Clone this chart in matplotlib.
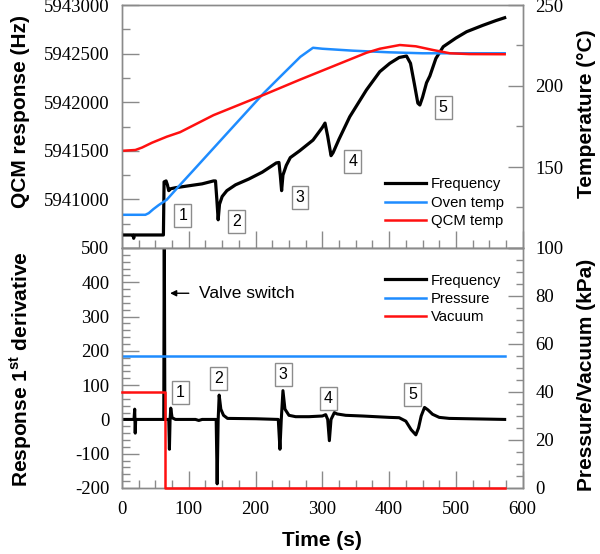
import matplotlib
matplotlib.use("Agg")
import matplotlib.pyplot as plt
from matplotlib.ticker import MultipleLocator, FixedLocator, FixedFormatter
from matplotlib.lines import Line2D

plt.rcParams['font.family'] = ['Liberation Serif', 'DejaVu Serif']
plt.rcParams['mathtext.fontset'] = 'custom'
plt.rcParams['mathtext.rm'] = 'Liberation Sans'
plt.rcParams['mathtext.bf'] = 'Liberation Sans:bold'
plt.rcParams['xtick.labelsize'] = 13.5
plt.rcParams['ytick.labelsize'] = 13.5

# ---------------- data ----------------
freq_t = [0, 15, 16.5, 17.5, 18.5, 62, 63, 66, 68, 70, 73, 80, 100, 120, 137, 140,
          142, 144, 146, 150, 157, 170, 190, 210, 231, 235, 237, 239, 241, 246, 252,
          266, 286, 300, 304, 308, 313, 316, 325, 341, 366, 386, 401, 415, 426, 432,
          438, 443, 446, 450, 456, 461, 470, 481, 500, 516, 540, 560, 573]
freq_hz = [5940634, 5940634, 5940634, 5940600, 5940634, 5940634, 5941180, 5941190,
           5941150, 5941090, 5941110, 5941120, 5941140, 5941160, 5941190, 5941190,
           5941000, 5940790, 5940950, 5941030, 5941090, 5941150, 5941210, 5941280,
           5941375, 5941380, 5941250, 5941090, 5941250, 5941350, 5941430, 5941500,
           5941610, 5941740, 5941785, 5941650, 5941450, 5941480, 5941620, 5941850,
           5942126, 5942314, 5942400, 5942460, 5942475, 5942400, 5942180, 5941990,
           5941971, 5942050, 5942200, 5942270, 5942450, 5942571, 5942660, 5942725,
           5942790, 5942840, 5942869]

oven_t = [0, 35, 40, 47, 55, 67, 87, 107, 160, 212, 240, 267, 286, 300, 346, 400, 450, 573]
oven_T = [120.5, 120.5, 121.5, 124, 126.5, 129.8, 139, 148, 172, 195.5, 207, 218, 223.6,
          223, 221.8, 220.8, 220.2, 220.2]

qcm_t = [0, 20, 30, 45, 67, 87, 137, 212, 267, 300, 366, 386, 416, 440, 466, 491, 520, 573]
qcm_T = [160, 160.5, 162, 165, 168.7, 171.5, 182, 194.5, 204, 209.5, 220.5, 223, 225.3,
         224.5, 222.2, 220.2, 219.7, 219.6]

deriv_t = [0, 18, 19, 19.8, 20.5, 62.5, 63.3, 64.2, 70, 71, 72, 73, 75, 80, 110, 115, 120,
           141, 142.5, 144, 145.5, 148, 152, 158, 200, 234, 236.5, 238.5, 241, 244, 250,
           260, 280, 300, 305, 308, 310.5, 313, 318, 322, 335, 360, 400, 415, 425, 433,
           440, 444, 448, 453, 458, 465, 475, 490, 573]
deriv_v = [0, 0, 30, -40, 0, 0, 600, 0, 0, -87, 0, 33, 5, 0, 0, -3, 0,
           0, -188, 0, 71, 30, 12, 3, 2, 0, -87, 0, 84, 30, 12,
           8, 8, 10, 14, 0, -62, 0, 20, 16, 12, 10, 6, 5, -5, -30,
           -45, -25, 10, 35, 28, 15, 6, 3, 0]

press_t = [0, 573]
press_kpa = [55, 55]

vac_t = [0, 64.5, 64.5, 573]
vac_kpa = [40, 40, 0, 0]

top_marks = ['1', '2', '3', '4', '5']
top_mark_t = [91, 172, 266.5, 345.5, 481]
top_mark_hz = [5940830, 5940770, 5941020, 5941388, 5941947]

bot_marks = ['1', '2', '3', '4', '5']
bot_mark_t = [87, 144, 241.6, 309, 435]
bot_mark_v = [79, 120, 130, 62, 74]

x_ticks = [0, 100, 200, 300, 400, 500, 600]
x_ticklabels = ['0', '100', '200', '300', '400', '500', '600']
hz_ticks = [5940500, 5941000, 5941500, 5942000, 5942500, 5943000]
hz_ticklabels = ['', '5941000', '5941500', '5942000', '5942500', '5943000']
temp_ticks = [100, 150, 200, 250]
temp_ticklabels = ['', '150', '200', '250']
der_ticks = [-200, -100, 0, 100, 200, 300, 400, 500]
der_ticklabels = ['-200', '-100', '0', '100', '200', '300', '400', '500']
kpa_ticks = [0, 20, 40, 60, 80, 100]
kpa_ticklabels = ['0', '20', '40', '60', '80', '100']

# ---------------- style ----------------
BLACK = '#000000'
BLUE = '#1e8cff'
RED = '#ff1010'
SPINE = '#8a8a8a'
SANS = 'Liberation Sans'
LABFONT = dict(family=SANS, size=15, weight='bold')

fig = plt.figure(figsize=(6.0, 5.54), dpi=100)
W, H = 600.0, 554.0
x0, x1 = 122, 522.7
ax_top = fig.add_axes([x0 / W, 1 - 248 / H, (x1 - x0) / W, (248 - 5) / H])
ax_bot = fig.add_axes([x0 / W, 1 - 488 / H, (x1 - x0) / W, (488 - 248) / H])
ax_top2 = ax_top.twinx()
ax_bot2 = ax_bot.twinx()

# top panel
ax_top.plot(freq_t, freq_hz, color=BLACK, lw=2.3, zorder=3)
ax_top2.plot(oven_t, oven_T, color=BLUE, lw=1.8)
ax_top2.plot(qcm_t, qcm_T, color=RED, lw=1.8)
ax_top.set_xlim(0, 600)
ax_top.set_ylim(5940500, 5943000)
ax_top2.set_ylim(100, 250)

# bottom panel
ax_bot2.plot(press_t, press_kpa, color=BLUE, lw=1.8, zorder=2)
ax_bot2.plot(vac_t, vac_kpa, color=RED, lw=1.8, clip_on=False, zorder=3)
ax_bot.plot(deriv_t, deriv_v, color=BLACK, lw=2.2)
ax_bot.set_xlim(0, 600)
ax_bot.set_ylim(-200, 500)
ax_bot2.set_ylim(0, 100)

# ticks
for ax in (ax_top, ax_bot):
    ax.xaxis.set_major_locator(FixedLocator(x_ticks))
    ax.xaxis.set_minor_locator(MultipleLocator(25))
ax_bot.xaxis.set_major_formatter(FixedFormatter(x_ticklabels))
ax_top.yaxis.set_major_locator(FixedLocator(hz_ticks))
ax_top.yaxis.set_major_formatter(FixedFormatter(hz_ticklabels))
ax_top.yaxis.set_minor_locator(MultipleLocator(250))
ax_top2.yaxis.set_major_locator(FixedLocator(temp_ticks))
ax_top2.yaxis.set_major_formatter(FixedFormatter(temp_ticklabels))
ax_top2.yaxis.set_minor_locator(MultipleLocator(25))
ax_bot.yaxis.set_major_locator(FixedLocator(der_ticks))
ax_bot.yaxis.set_major_formatter(FixedFormatter(der_ticklabels))
ax_bot.yaxis.set_minor_locator(MultipleLocator(20))
ax_bot2.yaxis.set_major_locator(FixedLocator(kpa_ticks))
ax_bot2.yaxis.set_major_formatter(FixedFormatter(kpa_ticklabels))
ax_bot2.yaxis.set_minor_locator(MultipleLocator(5))

for ax in (ax_top, ax_bot, ax_top2, ax_bot2):
    for s in ax.spines.values():
        s.set_color(SPINE)
        s.set_linewidth(1.0)
    ax.tick_params(which='both', direction='in', color=SPINE, width=1.0,
                   top=False, labelcolor='black')
    ax.tick_params(which='major', length=12, pad=9)
    ax.tick_params(which='minor', length=6)

for ax in (ax_top2, ax_bot2):
    ax.tick_params(axis='y', which='major', length=11, pad=9)
    ax.tick_params(axis='y', which='minor', length=5)

ax_top.tick_params(axis='x', labelbottom=False)
ax_top2.tick_params(axis='x', which='both', labelbottom=False, bottom=False)
ax_bot2.tick_params(axis='x', which='both', bottom=False)

# number boxes
box = dict(boxstyle='square,pad=0.25', fc='white', ec='#8c8c8c', lw=1.0)
for m, t, v in zip(top_marks, top_mark_t, top_mark_hz):
    ax_top.text(t, v, m, ha='center', va='center', fontsize=11.5, family=SANS,
                bbox=box, zorder=5)
for m, t, v in zip(bot_marks, bot_mark_t, bot_mark_v):
    ax_bot.text(t, v, m, ha='center', va='center', fontsize=11.5, family=SANS,
                bbox=box, zorder=5)

# valve switch annotation
ax_bot.annotate('', xy=(72, 368), xytext=(100, 368),
                arrowprops=dict(arrowstyle='-|>', color='black', lw=1.0,
                                mutation_scale=9, shrinkA=0, shrinkB=0))
ax_bot.text(116, 368, 'Valve switch', ha='left', va='center', fontsize=12.5, family=SANS)

# legends
h_top = [Line2D([], [], color=BLACK, lw=2.3), Line2D([], [], color=BLUE, lw=1.8),
         Line2D([], [], color=RED, lw=1.8)]
ax_top2.legend(h_top, ['Frequency', 'Oven temp', 'QCM temp'], loc='center left',
               bbox_to_anchor=(0.656, 0.186), frameon=False,
               prop=dict(family=SANS, size=10.7),
               handlelength=2.75, handletextpad=0.35, labelspacing=0.3,
               borderpad=0, borderaxespad=0)
h_bot = [Line2D([], [], color=BLACK, lw=2.3), Line2D([], [], color=BLUE, lw=1.8),
         Line2D([], [], color=RED, lw=1.8)]
ax_bot2.legend(h_bot, ['Frequency', 'Pressure', 'Vacuum'], loc='center left',
               bbox_to_anchor=(0.656, 0.7875), frameon=False,
               prop=dict(family=SANS, size=10.7),
               handlelength=2.75, handletextpad=0.35, labelspacing=0.3,
               borderpad=0, borderaxespad=0)

# axis labels
fig.text(21 / W, 1 - 111 / H, 'QCM response (Hz)', rotation=90, ha='center', va='center', **LABFONT)
fig.text(21 / W, 1 - 369 / H, r'Response 1$^{\mathbf{st}}$ derivative', rotation=90,
         ha='center', va='center', **LABFONT)
fig.text(586 / W, 1 - 114 / H, 'Temperature (°C)', rotation=90, ha='center', va='center', **LABFONT)
fig.text(587 / W, 1 - 375 / H, 'Pressure/Vacuum (kPa)', rotation=90, ha='center', va='center', **LABFONT)
fig.text(322 / W, 1 - 540 / H, 'Time (s)', ha='center', va='center', **LABFONT)

fig.savefig('out.png', dpi=100)
